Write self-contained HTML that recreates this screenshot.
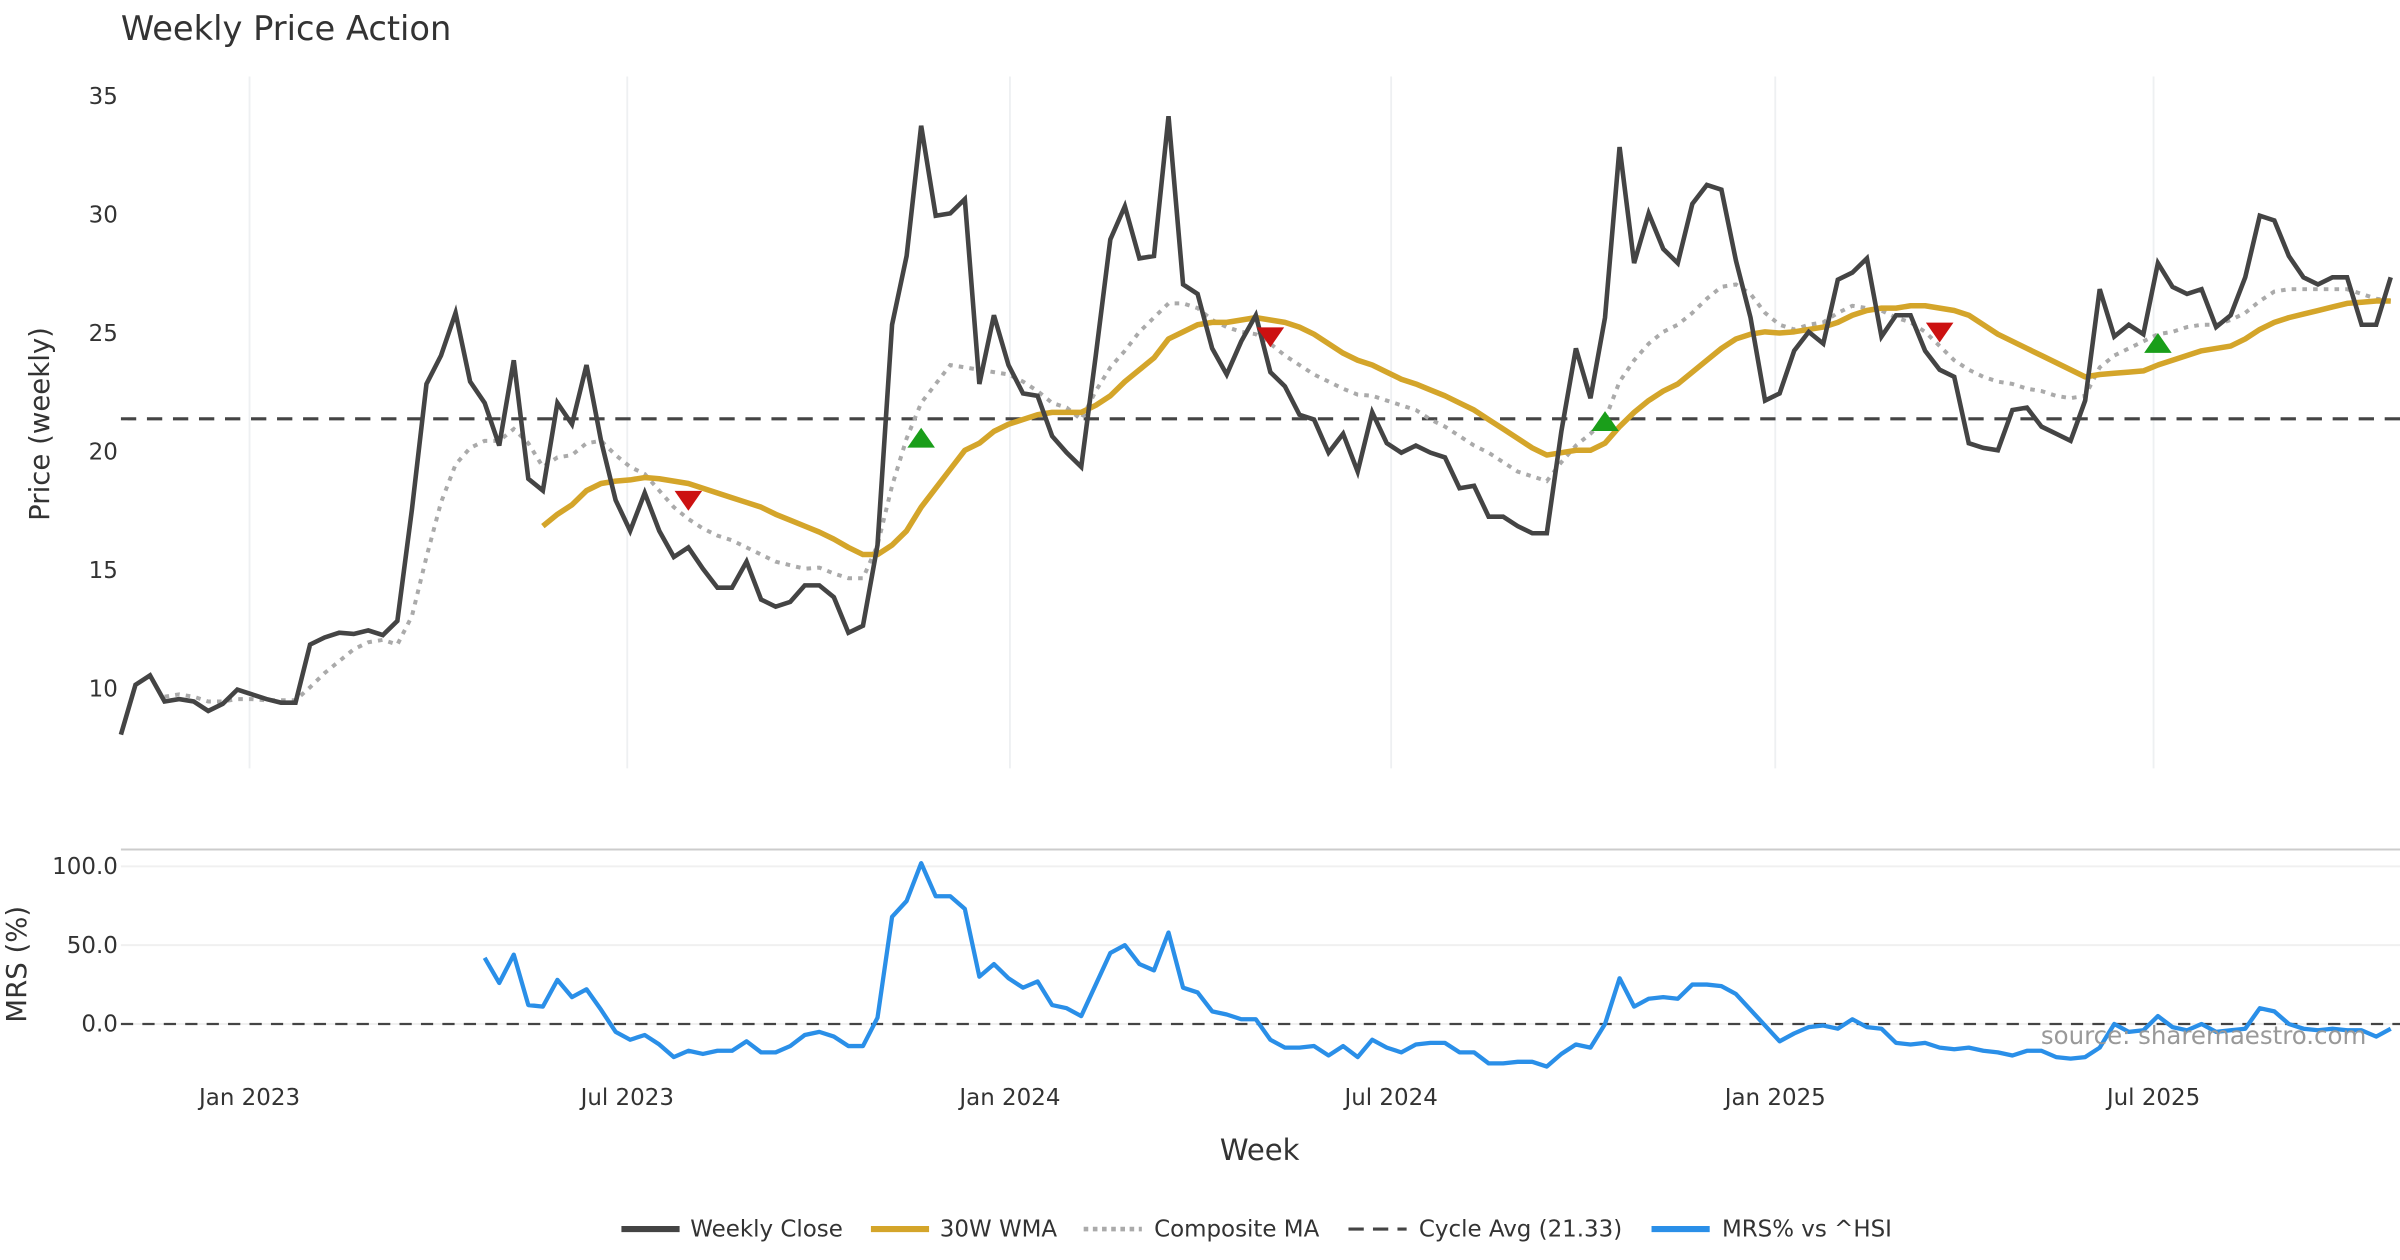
<!DOCTYPE html>
<html><head><meta charset="utf-8"><style>
html,body{margin:0;padding:0;background:#fff;}
svg{display:block;font-family:"DejaVu Sans","Liberation Sans",sans-serif;}
</style></head><body>
<svg id="chart" width="2400" height="1260" viewBox="0 0 1568 823.2" xmlns="http://www.w3.org/2000/svg">
<rect width="1568" height="823.2" fill="#fff"/>
<text x="79" y="26" font-size="22" fill="#333">Weekly Price Action</text>
<g id="grid"></g>
<g id="axes"></g>
<g id="series"></g>
<text transform="translate(32,277) rotate(-90)" text-anchor="middle" font-size="18" fill="#333">Price (weekly)</text>
<text transform="translate(17,630) rotate(-90)" text-anchor="middle" font-size="18" fill="#333">MRS (%)</text>
<text x="823" y="758" text-anchor="middle" font-size="19" fill="#333">Week</text>
<text x="1546" y="682" text-anchor="end" font-size="16" fill="#999">source: sharemaestro.com</text>
<line x1="79" y1="555" x2="1568" y2="555" stroke="#ccc" stroke-width="1.3"/>
<g font-size="15" fill="#333">
 <g><line x1="406" y1="803" x2="444" y2="803" stroke="#444" stroke-width="4"/><text x="451" y="808">Weekly Close</text></g>
 <g><line x1="569" y1="803" x2="607" y2="803" stroke="#D4A52A" stroke-width="4"/><text x="614" y="808">30W WMA</text></g>
 <g><line x1="708" y1="803" x2="746" y2="803" stroke="#aaa" stroke-width="3" stroke-dasharray="3,3"/><text x="754" y="808">Composite MA</text></g>
 <g><line x1="881" y1="803" x2="919" y2="803" stroke="#444" stroke-width="2" stroke-dasharray="10,6"/><text x="927" y="808">Cycle Avg (21.33)</text></g>
 <g><line x1="1079" y1="803" x2="1117" y2="803" stroke="#2A8FE8" stroke-width="4"/><text x="1125" y="808">MRS% vs ^HSI</text></g>
</g>
</svg>
<script>
const closeVals=[8.0,10.1,10.5,9.4,9.5,9.4,9.0,9.3,9.9,9.7,9.5,9.35,9.35,11.8,12.1,12.3,12.25,12.4,12.2,12.8,
17.5,22.8,24.0,25.8,22.9,22.0,20.2,23.8,18.8,18.3,22.0,21.1,23.6,20.4,17.9,16.6,18.2,16.6,15.5,15.9,
15.0,14.2,14.2,15.3,13.7,13.4,13.6,14.3,14.3,13.8,12.3,12.6,16.0,25.3,28.2,33.7,29.9,30.0,30.6,22.8,
25.7,23.6,22.4,22.3,20.6,19.9,19.3,24.0,28.9,30.3,28.1,28.2,34.1,27.0,26.6,24.3,23.2,24.6,25.7,23.3,
22.7,21.5,21.3,19.9,20.7,19.1,21.6,20.3,19.9,20.2,19.9,19.7,18.4,18.5,17.2,17.2,16.8,16.5,16.5,20.8,
24.3,22.2,25.6,32.8,27.9,30.0,28.5,27.9,30.4,31.2,31.0,28.0,25.6,22.1,22.4,24.2,25.0,24.5,27.2,27.5,
28.1,24.8,25.7,25.7,24.2,23.4,23.1,20.3,20.1,20.0,21.7,21.8,21.0,20.7,20.4,22.1,26.8,24.8,25.3,24.9,
27.9,26.9,26.6,26.8,25.2,25.7,27.3,29.9,29.7,28.2,27.3,27.0,27.3,27.3,25.3,25.3,27.3];
const wmaStart=29;
const wmaVals=[16.8,17.3,17.7,18.3,18.6,18.7,18.75,18.85,18.8,18.7,18.6,18.4,18.2,18.0,17.8,17.6,17.3,17.05,16.8,16.55,16.25,15.9,15.6,15.6,16.0,16.6,17.6,18.4,19.2,20.0,20.3,20.8,21.1,21.3,21.5,21.6,21.6,21.6,21.9,22.3,22.9,23.4,23.9,24.7,25.0,25.3,25.4,25.4,25.5,25.6,25.5,25.4,25.2,24.9,24.5,24.1,23.8,23.6,23.3,23.0,22.8,22.55,22.3,22.0,21.7,21.3,20.9,20.5,20.1,19.8,19.9,20.0,20.0,20.3,21.0,21.6,22.1,22.5,22.8,23.3,23.8,24.3,24.7,24.9,25.0,24.95,25.0,25.1,25.2,25.4,25.7,25.9,26.0,26.0,26.1,26.1,26.0,25.9,25.7,25.3,24.9,24.6,24.3,24.0,23.7,23.4,23.1,23.2,23.25,23.3,23.35,23.6,23.8,24.0,24.2,24.3,24.4,24.7,25.1,25.4,25.6,25.75,25.9,26.05,26.2,26.25,26.3,26.3];
const compStart=3;
const compVals=[9.6,9.7,9.6,9.4,9.4,9.5,9.5,9.45,9.45,9.45,10.0,10.6,11.1,11.6,11.9,12.0,11.8,13.0,15.5,17.8,19.4,20.1,20.4,20.4,20.9,20.3,19.3,19.7,19.8,20.3,20.4,19.8,19.3,19.0,18.3,17.6,17.1,16.7,16.4,16.2,15.9,15.6,15.3,15.15,15.0,15.05,14.8,14.6,14.6,16.0,18.5,20.5,22.0,22.8,23.6,23.5,23.4,23.3,23.2,22.9,22.5,22.0,21.8,21.3,22.5,23.5,24.2,25.0,25.6,26.2,26.2,26.0,25.5,25.2,25.0,24.9,24.5,24.0,23.6,23.2,22.9,22.6,22.35,22.3,22.1,21.9,21.7,21.3,21.0,20.6,20.2,19.9,19.5,19.1,18.9,18.7,19.5,20.2,20.7,21.3,22.9,23.8,24.5,25.0,25.3,25.8,26.4,26.9,27.0,26.6,25.8,25.3,25.1,25.3,25.4,25.8,26.1,26.0,25.9,25.6,25.4,25.0,24.4,23.8,23.4,23.1,22.9,22.8,22.6,22.5,22.3,22.2,22.3,23.5,24.0,24.3,24.6,24.9,25.0,25.2,25.3,25.3,25.5,25.8,26.3,26.7,26.8,26.8,26.8,26.8,26.8,26.6,26.4,26.3];
const mrsStart=25;
const mrsVals=[42,26,44,12,11,28,17,22,9,-5,-10,-7,-13,-21,-17,-19,-17,-17,-11,-18,-18,-14,-7,-5,-8,-14,-14,4,68,78,102,81,81,73,30,38,29,23,27,12,10,5,25,45,50,38,34,58,23,20,8,6,3,3,-10,-15,-15,-14,-20,-14,-21,-10,-15,-18,-13,-12,-12,-18,-18,-25,-25,-24,-24,-27,-19,-13,-15,0,29,11,16,17,16,25,25,24,19,9,-1,-11,-6,-2,-1,-3,3,-2,-3,-12,-13,-12,-15,-16,-15,-17,-18,-20,-17,-17,-21,-22,-21,-15,0,-5,-4,5,-2,-4,0,-5,-4,-3,10,8,0,-3,-4,-3,-4,-4,-8,-3];
const cycleAvg=21.33;
const buyIdx=[55,102,140];
const buyVals=[20.5,21.2,24.5];
const sellIdx=[39,79,125];
const sellVals=[17.9,24.8,25.0];
const priceTicks=[10,15,20,25,30,35];
const mrsTicks=[0,50,100];
const mrsTickLabels=["0.0","50.0","100.0"];
const dateTickIdx=[8.84,34.8,61.1,87.3,113.7,139.7];
const dateTickLabels=["Jan 2023","Jul 2023","Jan 2024","Jul 2024","Jan 2025","Jul 2025"];

const NS="http://www.w3.org/2000/svg";
const X=i=>79+i*9.506;
const YP=v=>449-(v-10)*15.48;
const YM=v=>669-v*1.03;
function mk(tag,attrs,parent){const e=document.createElementNS(NS,tag);for(const k in attrs)e.setAttribute(k,attrs[k]);parent.appendChild(e);return e;}
const grid=document.getElementById('grid'),axes=document.getElementById('axes'),ser=document.getElementById('series');
dateTickIdx.forEach((t,k)=>{
  const g=mk('line',{x1:X(t),x2:X(t),y1:50,y2:502,stroke:'#eef0f2','stroke-width':1.2},grid);
  
  
  const tx=mk('text',{x:X(t),y:722,'text-anchor':'middle','font-size':15,fill:'#333'},axes);
  tx.textContent=dateTickLabels[k];
  
  
});
priceTicks.forEach(v=>{
  const tx=mk('text',{x:77,y:YP(v)+6,'text-anchor':'end','font-size':15,fill:'#333'},axes);
  tx.textContent=v;
  
  
});
mrsTicks.forEach((v,k)=>{
  const g=mk('line',{x1:79,x2:1568,y1:YM(v),y2:YM(v),stroke:'#f0f0f0','stroke-width':1.3},grid);
  
  
  const tx=mk('text',{x:77,y:YM(v)+5,'text-anchor':'end','font-size':15,fill:'#333'},axes);
  tx.textContent=mrsTickLabels[k];
  
  
});
function path(vals,start,Y){return vals.map((v,j)=>(j?'L':'M')+X(start+j).toFixed(2)+','+Y(v).toFixed(2)).join(' ');}
const ca=mk('line',{x1:79,x2:1568,y1:YP(cycleAvg),y2:YP(cycleAvg),stroke:'#444','stroke-width':2,'stroke-dasharray':'10,7'},ser);


const cm=mk('path',{d:path(compVals,compStart,YP),fill:'none',stroke:'#aaa','stroke-width':2.6,'stroke-dasharray':'3,4'},ser);


const wm=mk('path',{d:path(wmaVals,wmaStart,YP),fill:'none',stroke:'#D4A52A','stroke-width':3.6,'stroke-linejoin':'round'},ser);


const cl=mk('path',{d:path(closeVals,0,YP),fill:'none',stroke:'#444','stroke-width':3,'stroke-linejoin':'miter'},ser);


const zl=mk('line',{x1:79,x2:1568,y1:YM(0),y2:YM(0),stroke:'#444','stroke-width':1.5,'stroke-dasharray':'8,6'},ser);


const ml=mk('path',{d:path(mrsVals,mrsStart,YM),fill:'none',stroke:'#2A8FE8','stroke-width':2.8,'stroke-linejoin':'round'},ser);


buyIdx.forEach((i,k)=>{
  const x=X(i),y=YP(buyVals[k]);
  const t=mk('polygon',{points:`${x-9},${y+6} ${x+9},${y+6} ${x},${y-7}`,fill:'#1a9e1a'},ser);
  
  
});
sellIdx.forEach((i,k)=>{
  const x=X(i),y=YP(sellVals[k]);
  const t=mk('polygon',{points:`${x-9},${y-6} ${x+9},${y-6} ${x},${y+7}`,fill:'#cc1111'},ser);
  
  
});
</script>
</body></html>
